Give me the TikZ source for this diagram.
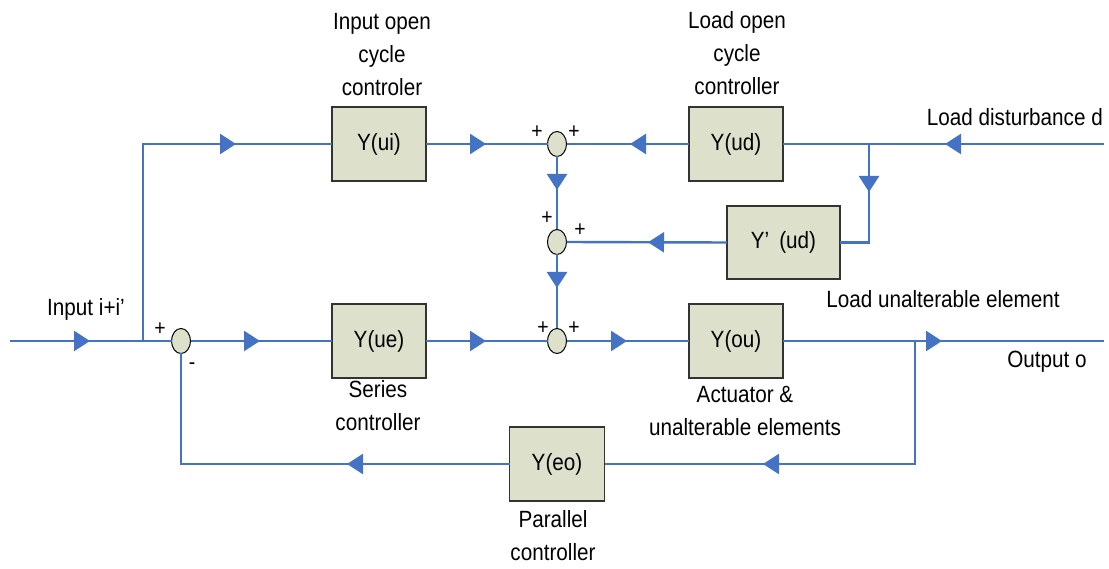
\documentclass[tikz,border=0pt]{standalone}
\usepackage{fontspec}
\setmainfont{Liberation Sans}[FakeStretch=0.88]
\usetikzlibrary{shapes.geometric,arrows.meta,decorations.markings}
\definecolor{flow}{HTML}{4472C4}
\definecolor{boxfill}{HTML}{DDE0CB}
\begin{document}
\begin{tikzpicture}[x=1pt,y=-1pt,
  every node/.style={font=\fontsize{23.5}{33}\selectfont},
  block/.style={draw=black!80,line width=1.1pt,fill=boxfill,minimum width=94pt,minimum height=74pt,inner sep=0pt,outer sep=0pt},
  summer/.style={ellipse,draw=black,line width=1pt,fill=boxfill,minimum width=19pt,minimum height=25pt,inner sep=0pt,outer sep=0pt},
  sign/.style={font=\fontsize{22}{22}\selectfont,inner sep=0pt},
  label/.style={align=center,inner sep=0pt},
  wire/.style={draw=flow,line width=2.4pt},
  arrowat/.style={decoration={markings,mark=at position #1 with {\arrow{Triangle[length=16pt,width=20pt]}}},postaction={decorate}}
]
\useasboundingbox (0,0) rectangle (1109,569);

% junctions and free ends
\coordinate (in0) at (10,341);
\coordinate (br1) at (143,341);
\coordinate (din) at (1104,144);
\coordinate (br2) at (869,144);
\coordinate (out) at (1104,341);
\coordinate (br3) at (915,341);

% blocks
\node[block] (ui) at (379,144) {Y(ui)};
\node[block] (ue) at (379,341) {Y(ue)};
\node[block] (ud) at (736,144) {Y(ud)};
\node[block] (ou) at (736,341) {Y(ou)};
\node[block,minimum width=113pt,minimum height=73pt] (yud) at (783.5,242.5) {Y’\hspace{10pt}(ud)};
\node[block,minimum width=95pt] (eo) at (557,464) {Y(eo)};

% summing junctions
\node[summer] (s1) at (181,341) {};
\node[summer] (s2) at (557,144) {};
\node[summer] (s3) at (557,242) {};
\node[summer] (s4) at (557,341) {};

% connectors
\draw[wire,arrowat=80pt] (in0) -- (s1.west);
\draw[wire,arrowat=290pt] (br1) |- (ui.west);
\draw[wire,arrowat=69.5pt] (s1.east) -- (ue.west);
\draw[wire,arrowat=60pt] (ui.east) -- (s2.west);
\draw[wire,arrowat=59pt] (ud.west) -- (s2.east);
\draw[wire,arrowat=159pt] (din) -- (ud.east);
\draw[wire,arrowat=48pt] (br2) |- (yud.east);
\draw[wire,arrowat=33.5pt] (s2.south) -- (s3.north);
\draw[wire,arrowat=79pt] (yud.west) -- (s3.east);
\draw[wire,arrowat=33.5pt] (s3.south) -- (s4.north);
\draw[wire,arrowat=60pt] (ue.east) -- (s4.west);
\draw[wire,arrowat=60.5pt] (s4.east) -- (ou.west);
\draw[wire,arrowat=159pt] (ou.east) -- (out);
\draw[wire,arrowat=275pt] (br3) |- (eo.east);
\draw[wire,arrowat=162.5pt] (eo.west) -| (s1.south);

% signs
\node[sign] (p1) at (160,329) {+};
\node[sign] (m1) at (192,366) {-};
\node[sign] (p2a) at (537,132) {+};
\node[sign] (p2b) at (574,132) {+};
\node[sign] (p3a) at (547,218) {+};
\node[sign] (p3b) at (580,230) {+};
\node[sign] (p4a) at (543,328) {+};
\node[sign] (p4b) at (574,328) {+};

% labels
\node[label] (lui) at (382,55) {Input open\\cycle\\controler};
\node[label] (lud) at (737,53) {Load open\\cycle\\controller};
\node[label] (lue) at (378,406) {Series\\controller};
\node[label] (lou) at (745,411) {Actuator \&\\unalterable elements};
\node[label] (leo) at (553,536) {Parallel\\controller};
\node[label] (lyud) at (943,299) {Load unalterable element};
\node[label,anchor=east] (ldist) at (1103,117) {Load disturbance d};
\node[label] (lout) at (1047,362) {Output o};
\node[label] (lin) at (86,309) {Input i+i’};
\end{tikzpicture}
\end{document}
